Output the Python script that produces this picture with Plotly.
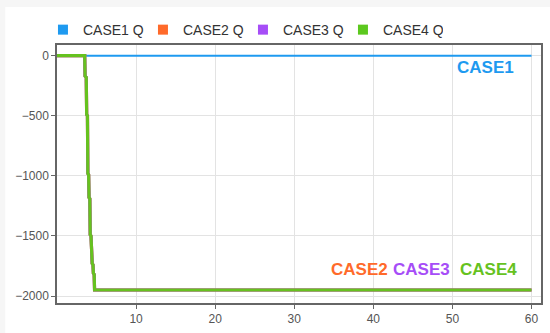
import plotly.graph_objects as go

# ---- data ----
case1_t = [0, 60]
case1_q = [0, 0]

drop_t = [0, 3.5, 3.55, 3.7, 3.75, 3.85, 3.9, 4.0, 4.05, 4.15, 4.2, 4.3, 4.45, 4.55, 4.6, 4.7, 4.75, 60]
drop_q = [0, 0, -170, -180, -490, -500, -980, -990, -1180, -1190, -1490, -1500, -1730, -1740, -1810, -1820, -1950, -1950]

series_names = ["CASE1 Q", "CASE2 Q", "CASE3 Q", "CASE4 Q"]
labels = ["CASE1", "CASE2", "CASE3", "CASE4"]
colors = ["#1E9AF0", "#FF6A2A", "#A64DF7", "#66C21F"]
legend_colors = ["#1E9AF0", "#FF6A2A", "#A64DF7", "#5CC81E"]
x_ticks = [10, 20, 30, 40, 50, 60]
y_ticks = [0, -500, -1000, -1500, -2000]

series_t = [case1_t, drop_t, drop_t, drop_t]
series_q = [case1_q, drop_q, drop_q, drop_q]
widths = [2, 3.2, 3.2, 3.2]

fig = go.Figure()
for name, t, q, c, w in zip(series_names, series_t, series_q, colors, widths):
    fig.add_trace(go.Scatter(x=t, y=q, mode="lines", name=name, showlegend=False,
                             line=dict(color=c, width=w)))
for name, c in zip(series_names, legend_colors):
    fig.add_trace(go.Scatter(x=[None], y=[None], mode="markers", name=name,
                             marker=dict(symbol="square", size=10, color=c)))

font_family = "Liberation Sans, Arial, sans-serif"

# label annotations
ann_pos = [(54.2, -100), (38.3, -1780), (46.1, -1780), (54.6, -1780)]
for lab, c, (ax, ay) in zip(labels, colors, ann_pos):
    fig.add_annotation(x=ax, y=ay, text="<b>%s</b>" % lab, showarrow=False,
                       font=dict(family=font_family, size=17, color=c),
                       xanchor="center", yanchor="middle")

fig.add_shape(type="rect", xref="paper", yref="paper", x0=-0.107, x1=1.02, y0=-0.12, y1=1.147,
              fillcolor="white", line=dict(width=0), layer="below")

fig.update_layout(
    width=550, height=333,
    margin=dict(l=57, r=7, t=45, b=29),
    paper_bgcolor="#f6f6f6",
    plot_bgcolor="white",
    font=dict(family=font_family, size=12, color="#555"),
    legend=dict(orientation="h", x=-0.029, y=1.12, xanchor="left", yanchor="top",
                font=dict(family=font_family, size=14, color="#333"),
                itemwidth=30, entrywidth=55, entrywidthmode="pixels",
                tracegroupgap=0, bgcolor="rgba(0,0,0,0)"),
    xaxis=dict(range=[0, 61.2], tickvals=x_ticks, showgrid=True, gridcolor="#e3e3e3",
               zeroline=False, showline=True, linecolor="#666", linewidth=1.5, mirror=True,
               ticks="outside", ticklen=4, tickcolor="#666",
               tickfont=dict(size=12, color="#555")),
    yaxis=dict(range=[-2058, 89], tickvals=y_ticks, showgrid=True, gridcolor="#e3e3e3",
               zeroline=False, showline=True, linecolor="#666", linewidth=1.5, mirror=True,
               ticks="outside", ticklen=4, tickcolor="#666",
               tickfont=dict(size=12, color="#555")),
)

fig.write_html("out.html", config={"displayModeBar": False},
               post_script="document.body.style.margin='0';")
